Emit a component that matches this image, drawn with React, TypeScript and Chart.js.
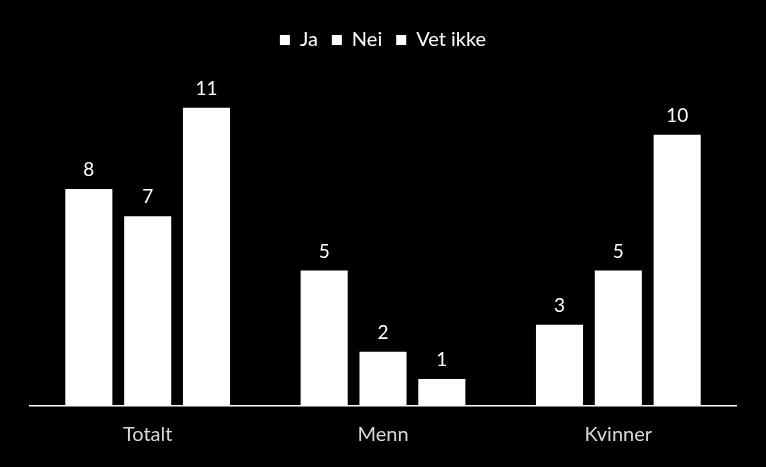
import React, { useEffect, useRef } from "react";
import { Chart, registerables } from "chart.js";

Chart.register(...registerables);

const categories = ["Totalt", "Menn", "Kvinner"];
const seriesNames = ["Ja", "Nei", "Vet ikke"];
const ja = [8, 5, 3];
const nei = [7, 2, 5];
const vetIkke = [11, 1, 10];
const yMax = 12.76;

const FONT = "Lato, 'Open Sans', sans-serif";

const valueLabels = {
  id: "valueLabels",
  afterDatasetsDraw(chart: any) {
    const ctx = chart.ctx;
    ctx.save();
    ctx.fillStyle = "#ffffff";
    ctx.font = `19px ${FONT}`;
    ctx.textAlign = "center";
    ctx.textBaseline = "middle";
    chart.data.datasets.forEach((ds: any, i: number) => {
      const meta = chart.getDatasetMeta(i);
      meta.data.forEach((bar: any, j: number) => {
        ctx.fillText(String(ds.data[j]), bar.x, bar.y - 19);
      });
    });
    ctx.restore();
  },
};

export default function App() {
  const ref = useRef<HTMLCanvasElement | null>(null);
  useEffect(() => {
    if (!ref.current) return;
    const chart = new Chart(ref.current, {
      type: "bar",
      data: {
        labels: categories,
        datasets: [
          { label: seriesNames[0], data: ja, backgroundColor: "#ffffff" },
          { label: seriesNames[1], data: nei, backgroundColor: "#ffffff" },
          { label: seriesNames[2], data: vetIkke, backgroundColor: "#ffffff" },
        ],
      },
      options: {
        animation: false,
        responsive: false,
        maintainAspectRatio: false,
        layout: { padding: { left: 30, right: 30, top: 16, bottom: 3 } },
        datasets: { bar: { categoryPercentage: 0.75, barPercentage: 0.8 } },
        plugins: {
          tooltip: { enabled: false },
          legend: {
            display: true,
            position: "top",
            labels: {
              color: "#ffffff",
              boxWidth: 10,
              boxHeight: 10,
              padding: 14,
              font: { family: FONT, size: 20 },
            },
          },
        },
        scales: {
          x: {
            grid: { display: false, drawTicks: false },
            border: { display: true, color: "#ffffff", width: 1.5 },
            ticks: { color: "#d9d9d9", padding: 17, font: { family: FONT, size: 20 } },
          },
          y: {
            display: false,
            min: 0,
            max: yMax,
          },
        },
      },
      plugins: [valueLabels],
    });
    return () => chart.destroy();
  }, []);
  return (
    <div style={{ position: "fixed", left: 0, top: 0, width: 766, height: 467, background: "#000" }}>
      <canvas ref={ref} width={766} height={467} style={{ width: 766, height: 467 }} />
    </div>
  );
}
